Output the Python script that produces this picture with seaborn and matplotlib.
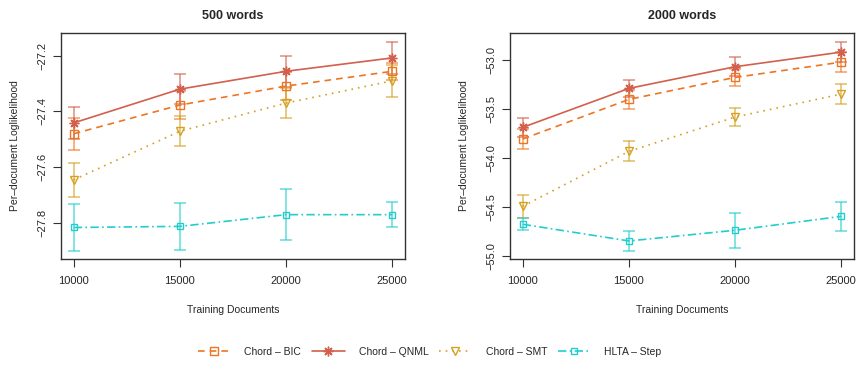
import matplotlib
matplotlib.use("Agg")
import matplotlib.pyplot as plt
import seaborn as sns
import numpy as np
from matplotlib.lines import Line2D

# Training set sizes
docs = [10000, 15000, 20000, 25000]
methods = ["Chord \u2013 BIC", "Chord \u2013 QNML", "Chord \u2013 SMT", "HLTA \u2013 Step"]

# 500-word vocabulary: mean per-document log-likelihood and error half-widths
bic_500 = [-27.480, -27.377, -27.309, -27.256]
bic_500_err = [0.058, 0.050, 0.050, 0.030]
qnml_500 = [-27.441, -27.320, -27.256, -27.208]
qnml_500_err = [0.056, 0.053, 0.056, 0.057]
smt_500 = [-27.645, -27.471, -27.370, -27.290]
smt_500_err = [0.060, 0.053, 0.054, 0.058]
hlta_500 = [-27.816, -27.812, -27.770, -27.770]
hlta_500_err = [0.085, 0.084, 0.091, 0.046]

# 2000-word vocabulary
bic_2000 = [-53.808, -53.404, -53.180, -53.024]
bic_2000_err = [0.100, 0.100, 0.090, 0.105]
qnml_2000 = [-53.689, -53.292, -53.071, -52.922]
qnml_2000_err = [0.100, 0.085, 0.095, 0.105]
smt_2000 = [-54.494, -53.934, -53.584, -53.350]
smt_2000_err = [0.115, 0.103, 0.090, 0.100]
hlta_2000 = [-54.677, -54.847, -54.738, -54.596]
hlta_2000_err = [0.062, 0.098, 0.180, 0.146]

colors = ["#EE7522", "#D2604C", "#D6A021", "#22CDCD"]
markers = ["s", (8, 2, 0), "v", "s"]
msizes = [5.5, 7, 6, 4]
styles = [(0, (4, 3)), "-", (0, (1, 3)), (0, (5, 2, 1, 2))]

sns.set_style("ticks")
plt.rcParams["font.family"] = ["Liberation Sans", "DejaVu Sans"]

fig = plt.figure(figsize=(8.59, 3.65), dpi=100)
ax1 = fig.add_axes([0.071, 0.2904, 0.4005, 0.619])
ax2 = fig.add_axes([0.5937, 0.2904, 0.4005, 0.619])

panels = [
    (ax1, "500 words",
     [bic_500, qnml_500, smt_500, hlta_500],
     [bic_500_err, qnml_500_err, smt_500_err, hlta_500_err],
     (-27.929, -27.119), [-27.2, -27.4, -27.6, -27.8], "{:.1f}"),
    (ax2, "2000 words",
     [bic_2000, qnml_2000, smt_2000, hlta_2000],
     [bic_2000_err, qnml_2000_err, smt_2000_err, hlta_2000_err],
     (-55.031, -52.728), [-53.0, -53.5, -54.0, -54.5, -55.0], "{:.1f}"),
]

for ax, title, series, errs, ylim, yticks, fmt in panels:
    for name, vals, err, c, m, ms, ls in zip(methods, series, errs, colors, markers, msizes, styles):
        ax.errorbar(docs, vals, yerr=err, fmt="none", ecolor=c, alpha=0.65,
                    elinewidth=1.2, capsize=4, capthick=1.2, zorder=2)
        sns.lineplot(x=docs, y=vals, ax=ax, color=c, marker=m, markersize=ms,
                     markerfacecolor="none", markeredgecolor=c, markeredgewidth=1.0,
                     linestyle=ls, linewidth=1.2, label=name, legend=False, zorder=3)
    ax.set_xlim(9400, 25600)
    ax.set_ylim(*ylim)
    ax.set_xticks(docs)
    ax.set_xticklabels([str(d) for d in docs], fontsize=8)
    ax.set_yticks(yticks)
    ax.set_yticklabels([fmt.format(t).replace("-", "\u2212") for t in yticks],
                       fontsize=8, rotation=90, va="center")
    ax.tick_params(direction="out", length=6, width=0.8, color="#333333")
    ax.tick_params(axis="x", pad=6)
    ax.tick_params(axis="y", pad=4)
    for sp in ax.spines.values():
        sp.set_color("#333333")
        sp.set_linewidth(1.0)
    ax.set_title(title, fontsize=9, fontweight="bold", pad=10)
    ax.set_xlabel("Training Documents", fontsize=7.5, labelpad=14)
    ax.set_ylabel("Per\u2013document Loglikelihood", fontsize=7.5, labelpad=12)

handles = [Line2D([0], [0], color=c, marker=m, markersize=ms, markerfacecolor="none",
                  markeredgecolor=c, linestyle=ls, linewidth=1.2)
           for c, m, ms, ls in zip(colors, markers, msizes, styles)]
fig.legend(handles, methods, loc="center", bbox_to_anchor=(0.5, 0.036), ncol=4,
           frameon=False, fontsize=7.5, handlelength=3.2, columnspacing=1.0,
           handletextpad=1.3)

fig.savefig("out.png", dpi=100)
